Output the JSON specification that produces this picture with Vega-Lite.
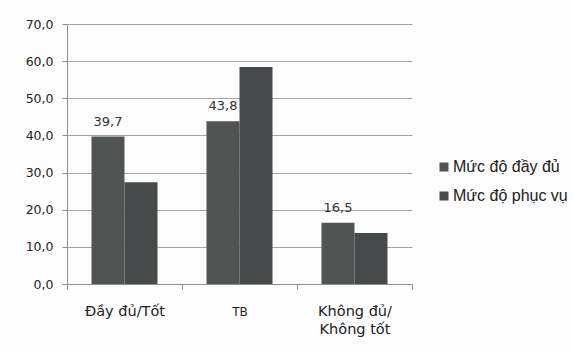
{
  "$schema": "https://vega.github.io/schema/vega-lite/v6.json",
  "width": 345,
  "height": 260,
  "autosize": "none",
  "padding": {"left": 67, "top": 24, "right": 161, "bottom": 68},
  "background": "#fdfdfd",
  "config": {
    "view": {"stroke": null},
    "locale": {"number": {"decimal": ",", "thousands": ".", "grouping": [3], "currency": ["", ""]}}
  },
  "data": {
    "values": [
      {"cat": "Đầy đủ/Tốt", "series": "Mức độ đầy đủ", "value": 39.7},
      {"cat": "Đầy đủ/Tốt", "series": "Mức độ phục vụ", "value": 27.4},
      {"cat": "TB", "series": "Mức độ đầy đủ", "value": 43.8},
      {"cat": "TB", "series": "Mức độ phục vụ", "value": 58.4},
      {"cat": "Không đủ/ Không tốt", "series": "Mức độ đầy đủ", "value": 16.5},
      {"cat": "Không đủ/ Không tốt", "series": "Mức độ phục vụ", "value": 13.7}
    ]
  },
  "encoding": {
    "x": {
      "field": "cat",
      "type": "nominal",
      "sort": ["Đầy đủ/Tốt", "TB", "Không đủ/ Không tốt"],
      "scale": {"paddingInner": 0, "paddingOuter": 0},
      "axis": {
        "title": null,
        "labelAngle": 0,
        "labelExpr": "datum.value == 'Không đủ/ Không tốt' ? ['Không đủ/', 'Không tốt'] : ((datum.value == 'Đầy đủ/Tốt' || datum.value == 'TB') ? datum.value : '')",
        "labelFont": "DejaVu Sans",
        "labelFontSize": {"expr": "datum.value == 'TB' ? 12 : 14.5"},
        "labelColor": "#222",
        "labelBaseline": "alphabetic",
        "labelPadding": 26,
        "labelLineHeight": 18,
        "tickBand": "extent",
        "tickSize": 5,
        "tickColor": "#8c8c8c",
        "domainColor": "#8c8c8c",
        "grid": false
      }
    },
    "xOffset": {
      "field": "series",
      "type": "nominal",
      "sort": ["Mức độ đầy đủ", "Mức độ phục vụ"],
      "scale": {"paddingInner": 0, "paddingOuter": 0.742}
    },
    "y": {
      "field": "value",
      "type": "quantitative",
      "scale": {"domain": [0, 70], "nice": false},
      "axis": {
        "title": null,
        "values": [0, 10, 20, 30, 40, 50, 60, 70],
        "format": ".1f",
        "labelFont": "DejaVu Sans",
        "labelFontSize": 12.5,
        "labelColor": "#222",
        "labelPadding": 9,
        "tickSize": 5,
        "tickColor": "#8c8c8c",
        "domainColor": "#8c8c8c",
        "gridColor": "#a3a3a3",
        "gridOpacity": 1
      }
    }
  },
  "layer": [
    {
      "mark": {"type": "bar"},
      "encoding": {
        "color": {
          "field": "series",
          "type": "nominal",
          "scale": {"domain": ["Mức độ đầy đủ", "Mức độ phục vụ"], "range": ["#505453", "#474a4a"]},
          "legend": {
            "title": null,
            "orient": "none",
            "legendX": 369,
            "legendY": 135,
            "symbolType": "square",
            "symbolSize": 81,
            "symbolStrokeWidth": 0,
            "symbolOpacity": 1,
            "labelFont": "Liberation Sans",
            "labelFontSize": 16,
            "labelColor": "#222",
            "labelOffset": 1,
            "rowPadding": 13
          }
        }
      }
    },
    {
      "transform": [{"filter": "datum.series === 'Mức độ đầy đủ'"}],
      "mark": {"type": "text", "baseline": "alphabetic", "dy": -11, "font": "DejaVu Sans", "fontSize": 13, "color": "#333"},
      "encoding": {"text": {"field": "value", "type": "quantitative", "format": ".1f"}}
    }
  ]
}
